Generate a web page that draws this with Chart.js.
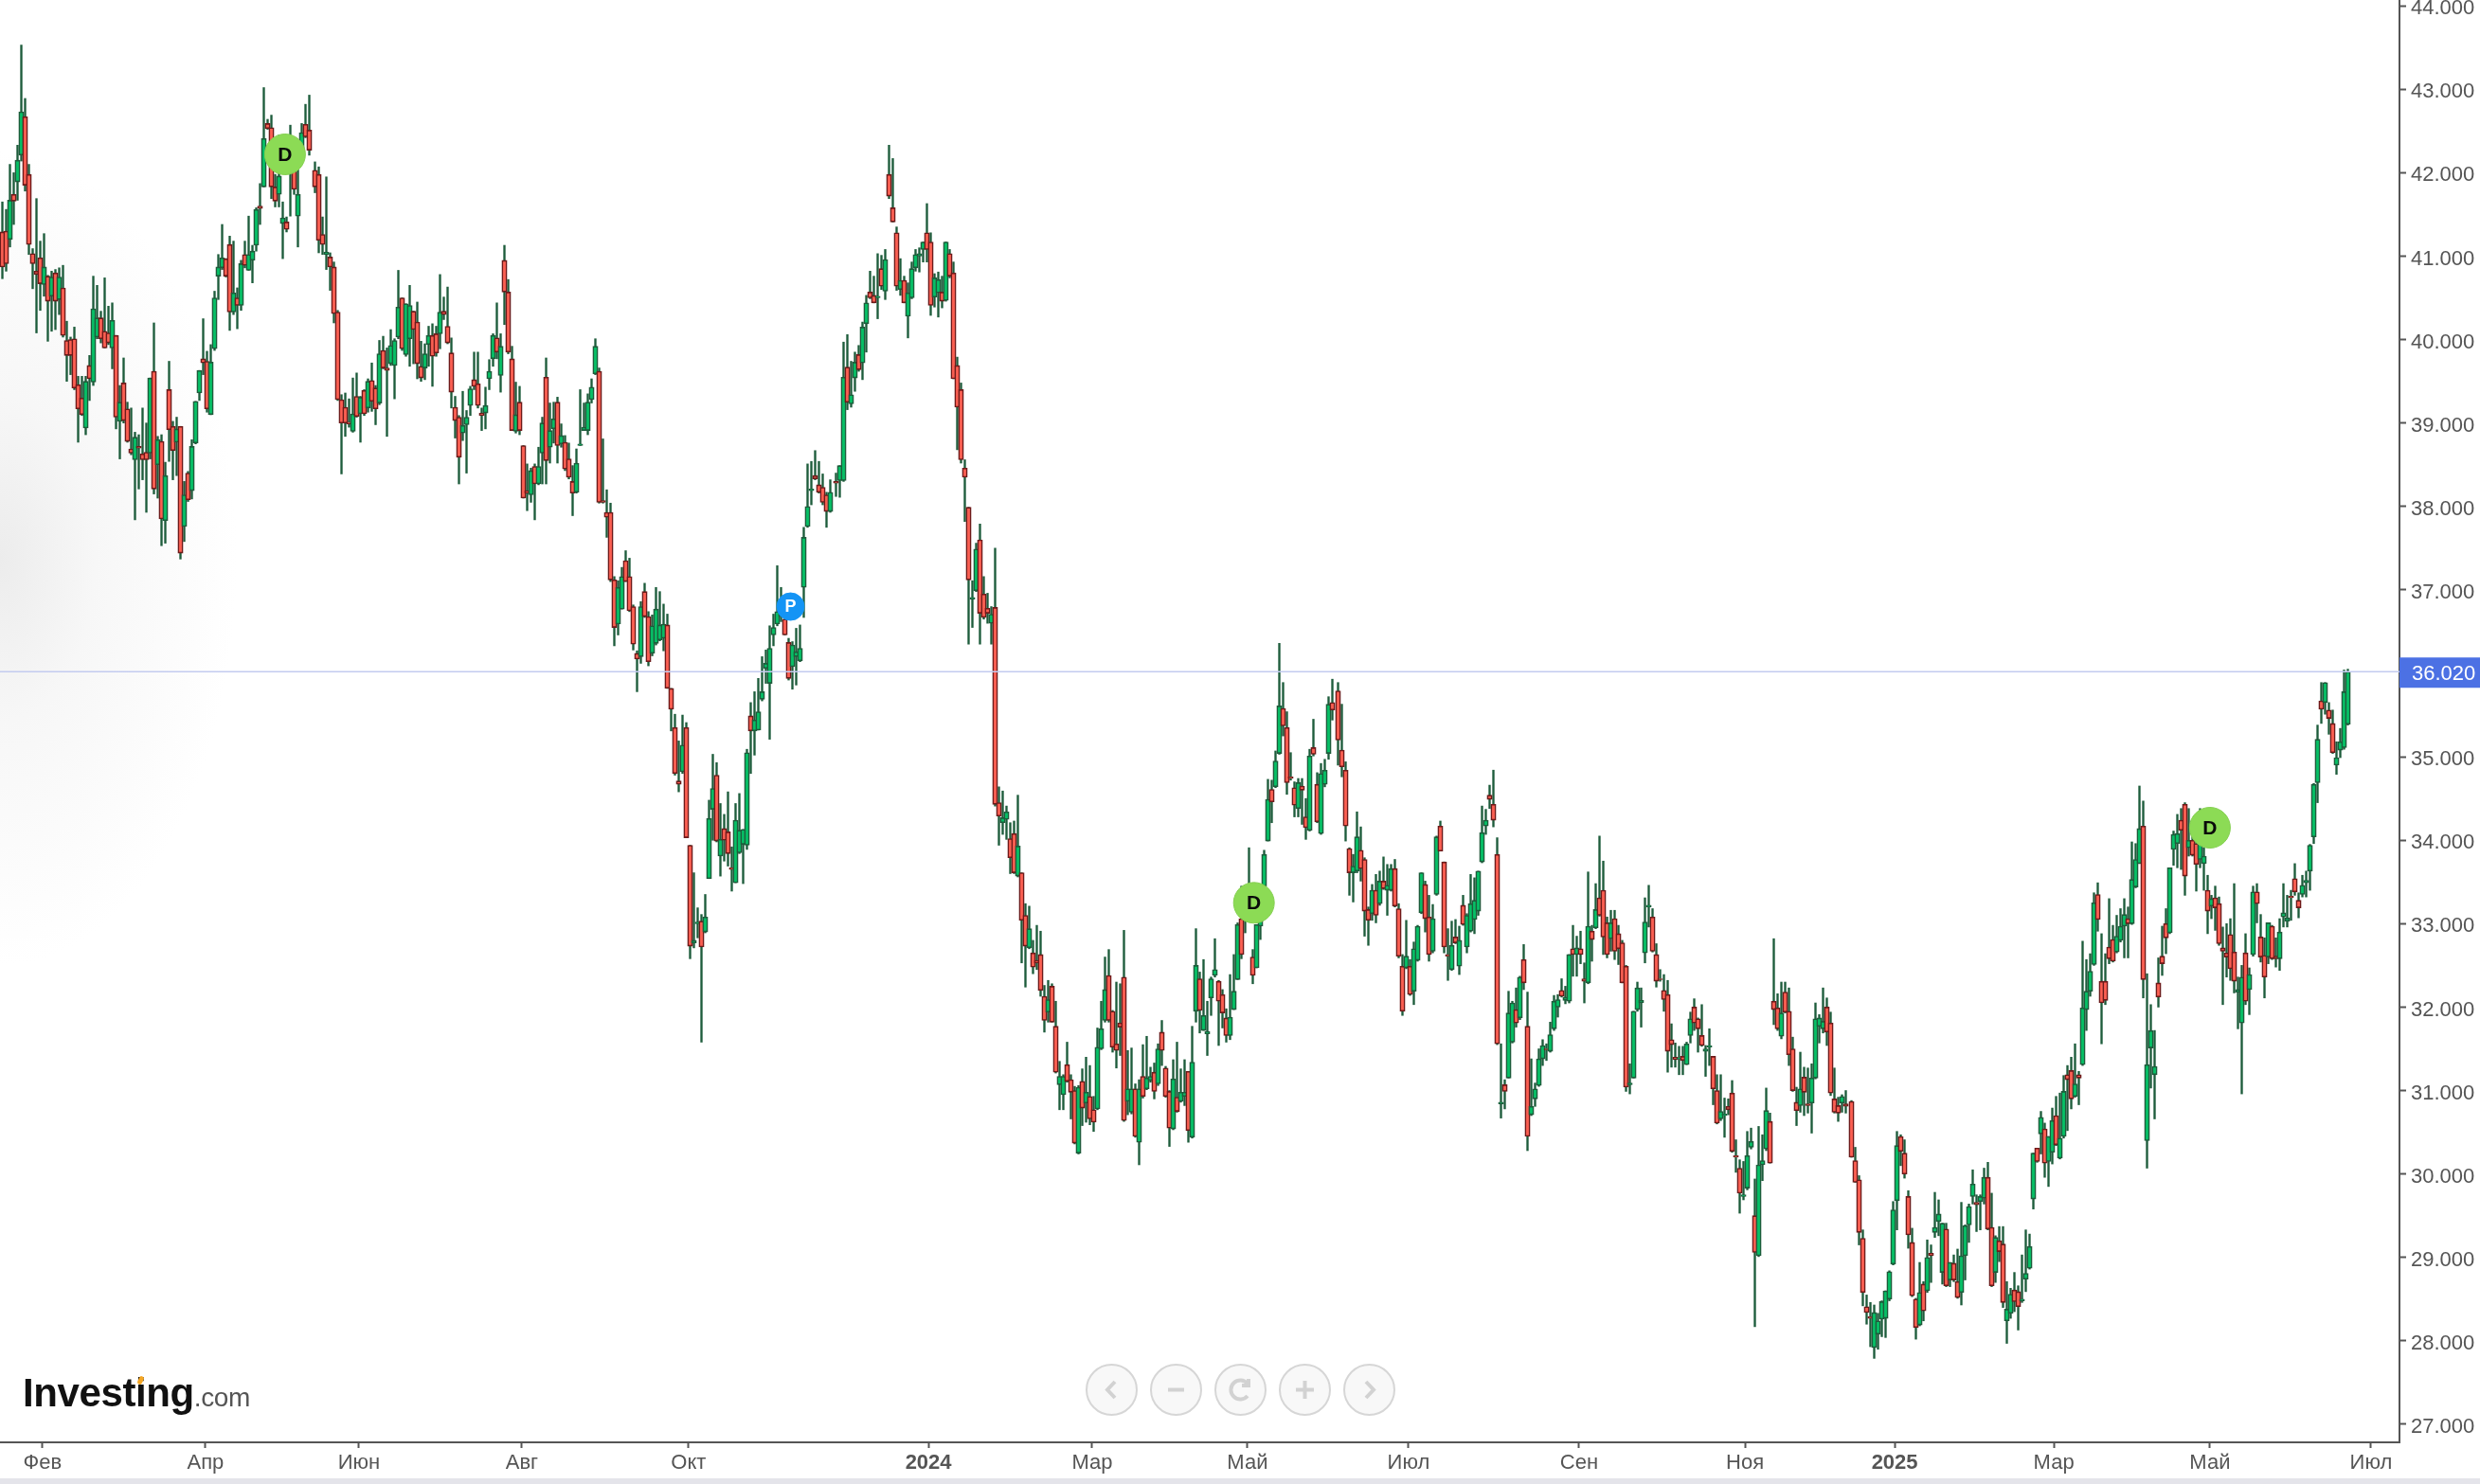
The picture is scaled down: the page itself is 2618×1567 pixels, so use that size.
<!DOCTYPE html>
<html lang="ru">
<head>
<meta charset="utf-8">
<title>Investing chart</title>
<script src="https://cdn.jsdelivr.net/npm/chart.js@4"></script>
<style>
html, body { margin: 0; width: 2618px; height: 1567px; overflow: hidden; background: #fff; font-family: "Liberation Sans", Arial, sans-serif; }
#wrap { position: relative; width: 2618px; height: 1561px; background: radial-gradient(ellipse 250px 430px at 0px 590px, #ececec 0%, #f7f7f7 40%, #fff 100%); }
#strip { position: absolute; left: 0; top: 1561px; width: 2618px; height: 6px; background: #e4e4ea; }
canvas { position: absolute; left: 0; top: 0; }
.logo { position: absolute; left: 24px; top: 1447px; font-size: 42px; line-height: 48px; font-weight: bold; color: #111; letter-spacing: -0.4px; white-space: nowrap; }
.logo span { font-size: 28px; font-weight: normal; color: #555; letter-spacing: -0.4px; }
.logo i { position: absolute; left: 122px; top: 6px; width: 5px; height: 9px; background: #f5a623; border-radius: 3px; transform: rotate(25deg); }
.btn { position: absolute; top: 1439.5px; width: 51px; height: 51px; border: 2px solid #d6d6d6; border-radius: 50%; background: #f8f8f8; }
.btn svg { position: absolute; left: 0; top: 0; width: 51px; height: 51px; fill: none; stroke: #d2d2d2; stroke-width: 4; }
</style>
</head>
<body>
<div id="wrap">
  <canvas id="chart" width="2618" height="1561"></canvas>
  <div class="logo">Investing<span>.com</span><i></i></div>
  <div class="btn" style="left:1146px"><svg viewBox="0 0 51 51"><path d="M29 17l-8 8.500 8 8.500"/></svg></div>
  <div class="btn" style="left:1214px"><svg viewBox="0 0 51 51"><path d="M17 25.500h17"/></svg></div>
  <div class="btn" style="left:1282px"><svg viewBox="0 0 51 51"><path d="M33 32a10 10 0 1 1 0-13M34 14v7h-7"/></svg></div>
  <div class="btn" style="left:1350px"><svg viewBox="0 0 51 51"><path d="M16 25.500h19M25.500 16v19"/></svg></div>
  <div class="btn" style="left:1418px"><svg viewBox="0 0 51 51"><path d="M22 17l8 8.500-8 8.500"/></svg></div>
</div>
<div id="strip"></div>
<script>
// Axis labels
const monthLabels = ['Фев','Апр','Июн','Авг','Окт','2024','Мар','Май','Июл','Сен','Ноя','2025','Мар','Май','Июл'];
const monthSlots = [10.6,53.6,94.1,137.1,181.1,244.4,287.6,328.6,371.1,416.1,459.9,499.4,541.4,582.6,625.1];
const priceTicks = [27,28,29,30,31,32,33,34,35,36,37,38,39,40,41,42,43,44];
const lastPrice = 36.02;

// Sessions after which the exchange was closed for a while
const sessionBreaks = [82,219,351,486];

// Event badges
const badgeLabels = ['D','P','D','D'];
const badgeSlots = [74.6,208,330.3,582.6];
const badgePrices = [42.22,36.8,33.25,34.15];

// Candles
const opens = [
41.29,41.30,41.20,41.74,41.89,42.21,42.67,41.98,41.03,40.82,
40.98,40.66,40.76,40.52,40.80,40.48,40.62,39.99,40.00,40.01,
39.46,39.30,38.94,39.69,39.49,40.03,40.26,40.10,40.08,39.90,
40.05,39.02,39.48,39.17,38.69,38.56,38.72,38.63,38.65,38.64,
39.62,38.50,38.78,37.83,39.40,38.96,38.77,38.96,37.76,38.40,
38.19,38.76,39.36,39.77,39.74,39.10,39.89,40.76,40.86,40.97,
41.14,40.33,40.50,40.41,41.02,40.83,40.95,41.13,41.60,41.83,
42.59,42.54,41.83,41.74,41.39,41.41,42.10,42.10,41.48,42.23,
42.58,42.51,42.03,41.98,41.26,41.02,40.99,40.87,40.33,39.28,
39.19,39.01,38.90,39.32,39.11,39.39,39.18,39.51,39.42,39.24,
39.87,39.66,39.71,39.69,40.03,40.50,39.82,40.01,40.34,40.21,
39.68,39.66,39.94,40.05,40.07,40.07,40.34,40.16,39.84,39.19,
39.07,38.88,38.98,39.21,39.52,39.47,39.12,39.12,39.53,39.77,
40.02,39.57,40.95,40.57,39.77,38.90,39.25,38.73,38.19,38.14,
38.48,38.27,38.64,39.55,38.71,38.93,39.25,38.75,38.77,38.57,
38.30,38.17,38.73,38.91,38.91,39.28,39.59,39.62,38.07,37.93,
37.93,37.12,36.59,36.77,37.35,37.16,36.80,36.24,36.20,36.98,
36.68,36.24,36.36,36.40,36.42,36.58,35.82,35.35,34.71,34.82,
35.35,33.94,32.77,33.00,33.03,32.90,33.54,34.37,34.78,33.81,
34.14,34.10,33.67,33.49,33.85,33.95,33.94,35.49,35.31,35.32,
35.69,36.06,35.88,36.46,36.59,36.68,36.65,36.37,36.08,36.20,
36.15,37.03,37.76,38.19,38.37,38.26,38.23,38.14,37.94,38.30,
38.31,38.31,39.67,39.23,39.54,39.82,39.72,40.19,40.57,40.53,
40.50,40.85,40.58,41.98,41.58,41.28,40.60,40.71,40.28,40.50,
40.86,41.00,41.08,41.28,41.17,40.51,40.56,40.57,40.47,41.03,
40.80,39.69,39.40,38.46,37.99,36.89,36.99,37.60,36.95,36.78,
36.60,36.79,34.45,34.21,34.25,34.02,34.08,33.57,33.61,33.10,
32.71,32.65,32.56,32.63,32.13,31.94,32.25,31.77,31.07,30.95,
31.31,31.13,31.00,30.25,31.11,30.85,30.93,30.77,30.78,31.50,
31.84,32.38,31.95,31.56,31.81,32.36,30.87,30.74,31.02,30.38,
31.17,31.02,31.12,31.22,31.08,31.70,31.27,30.99,30.54,30.92,
30.87,30.93,31.23,30.44,31.95,32.34,31.72,31.68,32.11,32.38,
32.31,32.15,31.87,31.66,31.97,32.33,33.06,33.10,33.22,32.60,
32.47,32.97,33.45,33.99,34.61,34.64,35.04,35.58,35.35,34.76,
34.63,34.38,34.65,34.28,34.12,35.11,34.67,34.08,34.67,35.04,
35.65,35.79,35.08,34.84,33.90,33.61,33.63,33.88,33.77,33.17,
33.12,33.40,33.24,33.51,33.40,33.40,33.66,33.18,32.49,32.47,
32.49,32.19,32.56,33.13,33.47,33.08,32.67,33.35,34.17,33.74,
32.63,32.45,32.84,32.49,33.22,32.72,32.91,33.05,33.15,33.74,
34.17,34.54,34.43,33.83,30.84,31.07,31.15,31.58,31.97,31.87,
32.57,31.77,30.71,30.90,31.06,31.38,31.50,31.47,31.74,32.00,
32.20,32.08,32.07,32.70,32.63,32.70,32.34,32.29,32.91,32.95,
33.31,33.40,33.01,32.82,33.06,32.88,32.77,32.49,31.07,31.15,
31.97,32.05,32.65,33.20,33.08,32.63,32.34,32.20,32.15,31.61,
31.40,31.38,31.41,31.31,31.66,32.00,31.86,31.66,31.47,31.52,
31.41,31.00,30.66,30.70,30.81,30.97,30.22,30.07,29.73,29.83,
30.32,29.50,29.02,30.11,30.30,30.63,32.07,31.99,31.65,32.18,
31.95,31.50,30.86,30.82,31.16,30.84,30.85,31.15,31.77,31.74,
32.00,31.81,30.90,30.82,30.85,30.84,30.87,30.16,29.93,29.23,
28.41,28.29,27.92,28.08,28.26,28.27,28.50,28.92,29.68,30.45,
30.25,29.73,29.18,28.50,28.19,28.68,28.60,29.05,29.30,29.43,
28.82,29.34,28.73,28.93,28.71,28.58,29.02,29.39,29.73,29.66,
29.67,29.71,29.96,29.36,28.82,29.20,29.16,28.24,28.33,28.61,
28.59,28.48,28.74,28.87,29.70,30.31,30.48,30.54,30.15,30.26,
30.70,30.19,30.45,31.19,31.24,30.93,31.19,31.31,31.97,32.19,
32.51,33.35,32.31,32.31,32.72,32.81,32.66,32.80,32.97,33.06,
33.00,33.44,33.72,34.17,30.40,31.51,31.19,32.29,32.61,33.00,
32.89,33.89,33.96,34.24,34.43,33.91,34.00,33.96,33.77,33.72,
33.40,33.21,33.31,33.24,32.71,32.65,32.87,32.66,32.18,31.81,
32.65,32.21,32.63,33.38,32.84,32.62,32.60,32.97,32.61,32.58,
33.08,33.03,33.33,33.54,33.28,33.35,33.49,33.63,34.04,34.69,
35.67,35.65,35.56,35.40,34.90,35.08,35.11,35.39];
const highs = [
41.65,41.56,42.10,42.00,42.33,43.53,42.89,42.10,41.09,41.69,
41.18,41.27,40.77,40.82,40.84,40.86,40.89,40.22,40.03,40.15,
39.56,39.56,39.56,39.81,40.76,40.65,40.34,40.74,40.40,40.44,
40.05,39.45,39.78,39.25,39.18,38.89,38.86,39.18,39.00,39.54,
40.20,38.84,38.86,38.53,39.74,39.02,39.07,38.96,38.30,38.42,
38.80,39.26,39.63,40.25,39.86,39.94,40.58,41.02,41.38,40.97,
41.24,41.18,40.62,40.95,41.18,41.48,41.13,41.58,41.87,43.02,
42.64,42.69,41.98,42.45,41.65,41.47,42.57,42.36,42.30,42.59,
42.82,42.93,42.13,42.07,41.47,41.95,41.04,40.93,40.35,39.34,
39.36,39.29,39.54,39.60,39.32,39.40,39.53,39.72,39.45,39.99,
40.04,39.90,40.12,40.01,40.83,40.50,40.43,40.65,40.34,40.45,
39.98,39.95,40.16,40.19,40.16,40.78,40.51,40.63,40.02,39.32,
39.09,39.38,39.15,39.44,39.85,39.85,39.18,39.43,39.76,40.07,
40.44,40.07,41.13,40.72,39.92,39.49,39.44,38.73,38.51,38.46,
38.51,38.71,39.07,39.78,39.24,39.25,39.31,38.99,38.85,38.76,
38.49,38.69,39.40,39.24,39.35,39.53,40.01,39.66,38.81,38.20,
38.04,37.16,37.11,37.27,37.47,37.38,36.82,36.27,36.86,37.08,
36.74,36.70,37.03,36.98,36.83,36.71,35.82,35.51,35.19,35.50,
35.41,33.94,33.61,33.19,33.11,33.35,34.48,35.03,34.93,34.44,
34.31,34.58,33.92,34.44,34.56,34.13,35.09,35.65,35.78,35.94,
36.20,36.28,36.57,36.71,37.29,37.03,36.74,36.42,36.38,36.54,
36.58,37.75,38.51,38.54,38.67,38.54,38.39,38.17,38.32,38.40,
38.49,39.97,40.06,39.74,39.85,39.93,40.21,40.53,40.82,40.76,
41.03,41.01,41.08,42.33,42.17,41.35,40.97,40.76,40.68,40.93,
41.08,41.10,41.17,41.63,41.28,40.79,40.81,40.76,41.17,41.08,
40.93,39.79,39.48,38.56,37.99,37.11,37.56,37.79,37.16,36.96,
36.80,37.50,34.64,34.59,34.41,34.21,34.23,34.54,33.61,33.24,
33.21,32.80,32.98,32.91,32.26,32.32,32.28,32.07,31.35,31.19,
31.58,31.19,31.05,31.06,31.26,31.40,31.30,30.93,31.75,32.07,
32.60,32.69,31.96,32.30,32.28,32.92,31.48,31.51,31.08,31.13,
31.55,31.65,31.28,31.33,31.56,31.84,31.29,31.00,31.37,31.58,
31.26,31.37,31.23,31.77,32.94,32.42,32.57,32.07,32.36,32.82,
32.32,32.21,31.98,32.39,32.63,33.01,33.45,33.45,33.91,32.69,
32.99,33.45,33.88,34.73,34.72,35.07,36.36,35.89,35.54,35.05,
34.70,34.74,34.74,34.50,35.09,35.45,34.81,34.92,34.97,35.72,
35.93,35.89,35.63,34.94,33.91,33.83,34.34,34.16,33.79,33.20,
33.47,33.59,33.63,33.80,33.71,33.71,33.77,33.24,32.63,33.04,
32.57,32.78,32.98,33.61,33.51,33.34,33.23,34.05,34.23,33.74,
32.94,33.03,33.05,32.97,33.34,33.12,33.59,33.55,33.63,34.41,
34.37,34.66,34.84,34.03,31.56,31.13,32.19,32.07,32.23,32.37,
32.75,32.18,31.38,31.09,31.50,31.61,31.56,31.82,32.14,32.15,
32.34,32.25,32.63,32.98,32.85,32.91,32.53,33.62,32.98,33.48,
34.05,33.75,33.08,33.16,33.16,32.98,32.80,32.50,31.32,31.95,
32.30,32.23,33.31,33.46,33.18,32.76,32.45,32.39,32.32,31.80,
31.57,31.53,31.53,31.58,31.94,32.10,31.87,32.03,31.54,31.74,
31.41,31.19,31.19,30.91,30.90,31.12,30.41,30.17,30.15,30.51,
30.55,29.94,30.57,30.47,31.03,30.73,32.82,32.16,32.30,32.30,
32.23,31.64,31.04,31.46,31.28,31.27,31.32,32.05,31.91,32.23,
32.11,31.94,31.27,30.92,30.95,31.00,30.88,30.32,29.98,29.33,
28.55,28.46,28.43,28.33,28.48,28.60,28.84,29.67,30.51,30.47,
30.41,29.80,29.35,28.51,28.94,28.71,29.21,29.15,29.78,29.69,
29.41,29.41,28.94,29.03,29.10,29.66,29.39,29.64,30.05,29.75,
29.75,30.07,30.14,29.77,29.26,29.37,29.37,28.71,28.63,28.82,
28.66,29.03,29.33,29.28,30.25,30.31,30.75,30.61,30.45,30.79,
30.93,30.97,31.18,31.30,31.40,31.56,31.23,32.79,32.57,32.64,
33.37,33.49,32.88,32.64,33.30,32.98,33.10,33.18,33.30,33.20,
33.98,33.96,34.65,34.47,32.40,32.03,31.72,32.59,32.97,33.18,
33.67,34.11,34.31,34.38,34.45,34.38,34.14,34.14,34.38,33.91,
33.58,33.34,33.45,33.32,32.96,33.00,33.06,33.48,32.36,32.50,
32.88,32.47,33.45,33.48,33.11,32.83,33.01,32.98,32.83,33.06,
33.48,33.34,33.40,33.72,33.37,33.58,33.63,33.95,34.68,35.38,
35.89,35.89,35.65,35.56,35.18,35.34,36.04,36.05];
const lows = [
40.73,40.82,41.11,41.38,41.67,42.14,41.78,41.02,40.61,40.08,
40.35,40.52,39.98,40.10,40.12,40.30,40.03,39.50,39.58,39.40,
38.77,39.09,38.86,39.27,39.45,40.01,39.96,39.90,39.94,39.65,
38.93,38.57,39.00,38.77,38.62,37.84,38.21,38.32,37.93,38.57,
38.15,38.10,37.53,37.56,38.54,38.32,38.37,37.37,37.58,38.06,
38.09,38.75,39.27,39.58,39.13,39.10,39.87,40.48,40.84,40.75,
40.11,40.30,40.13,40.35,40.86,40.83,40.68,41.06,41.38,41.83,
42.52,41.69,41.59,41.59,40.97,41.29,41.48,41.74,41.11,42.18,
42.42,42.21,41.76,41.04,41.02,40.84,40.59,40.20,39.27,38.39,
38.84,38.95,38.89,39.07,38.77,39.09,39.13,39.14,38.98,39.22,
39.65,38.84,39.69,39.29,40.01,39.87,39.80,39.68,39.71,39.53,
39.50,39.52,39.68,39.44,39.80,39.89,40.24,39.95,39.18,38.82,
38.27,38.79,38.40,39.09,39.40,39.18,38.91,38.93,39.40,39.68,
39.77,39.37,40.18,39.83,38.91,38.88,38.86,38.10,37.95,38.05,
37.84,38.26,38.27,38.27,38.52,38.76,38.52,38.71,38.43,38.33,
37.89,38.16,38.73,38.91,38.86,39.24,39.58,38.04,38.04,37.63,
37.10,36.33,36.46,36.77,37.10,36.74,36.28,35.78,36.12,36.67,
36.09,36.21,36.34,36.39,36.27,35.82,35.31,34.78,34.58,34.80,
34.03,32.58,32.71,32.83,31.58,32.89,33.54,34.00,33.98,33.57,
33.75,33.69,33.39,33.49,33.84,33.48,33.89,34.80,35.02,35.32,
35.67,35.88,35.21,36.33,36.57,36.62,36.46,35.92,35.81,35.86,
36.14,36.67,37.75,38.02,38.32,38.16,38.02,37.75,37.93,38.12,
38.11,38.30,39.16,39.19,39.38,39.62,39.52,39.85,40.49,40.44,
40.25,40.60,40.48,41.69,41.41,40.59,40.53,40.44,40.02,40.49,
40.82,40.81,40.93,40.93,40.29,40.39,40.27,40.38,40.46,40.74,
39.53,38.68,38.52,37.82,36.35,36.55,36.98,36.35,36.65,36.60,
36.35,34.41,33.94,34.07,34.01,33.60,33.60,33.56,32.53,32.24,
32.70,32.40,32.45,32.13,31.70,31.82,31.82,31.21,30.77,30.77,
31.10,30.66,30.36,30.24,30.58,30.62,30.59,30.51,30.77,31.49,
31.82,31.82,31.46,31.27,31.42,30.63,30.71,30.72,30.44,30.11,
30.91,31.01,31.10,30.90,31.06,31.30,30.92,30.33,30.53,30.74,
30.86,30.82,30.38,30.43,31.82,31.69,31.72,31.42,31.90,32.36,
31.54,31.75,31.58,31.61,31.97,32.33,32.58,32.89,33.22,32.28,
32.47,32.81,33.31,33.99,34.21,34.63,35.03,35.25,34.55,34.72,
34.28,34.28,34.19,34.01,34.11,35.01,34.21,34.07,34.64,34.97,
35.44,34.90,34.76,33.99,33.34,33.26,33.61,33.51,32.85,32.74,
33.04,33.01,33.22,33.41,33.10,33.39,33.20,32.59,31.90,32.46,
32.14,32.03,32.55,33.12,32.90,32.55,32.65,33.34,33.87,32.65,
32.32,32.44,32.76,32.39,32.98,32.65,32.90,32.88,33.10,33.73,
34.07,34.38,34.16,31.55,30.67,30.78,31.15,31.57,31.76,31.85,
32.21,30.28,30.70,30.81,31.05,31.30,31.36,31.46,31.72,31.88,
32.12,32.04,32.05,32.37,32.37,32.52,32.05,32.28,32.55,32.94,
33.09,32.63,32.59,32.67,32.57,32.51,32.29,30.99,30.96,31.15,
31.95,31.76,32.53,32.96,32.66,32.24,32.31,31.95,31.22,31.28,
31.28,31.19,31.19,31.31,31.57,31.72,31.46,31.53,31.17,31.30,
30.83,30.60,30.64,30.44,30.71,30.26,30.02,29.53,29.69,29.81,
30.30,28.17,29.01,29.92,30.28,30.13,31.79,31.72,31.62,31.93,
31.30,30.99,30.58,30.74,30.70,30.73,30.49,31.14,31.57,31.69,
31.54,30.94,30.73,30.63,30.74,30.73,30.20,29.90,29.15,28.42,
28.20,27.93,27.79,27.90,28.05,28.04,28.48,28.91,29.33,30.10,
29.95,29.11,28.53,28.02,28.18,28.24,28.58,28.70,29.24,29.26,
28.68,28.65,28.65,28.71,28.51,28.43,28.73,29.18,29.64,29.31,
29.33,29.64,29.33,28.65,28.70,28.95,28.40,27.97,28.27,28.35,
28.13,28.46,28.59,28.86,29.58,30.14,30.24,29.96,29.85,30.12,
30.34,30.18,30.43,30.52,30.78,30.92,30.83,31.30,31.72,32.13,
32.50,32.91,31.56,32.03,32.52,32.54,32.65,32.78,32.59,32.59,
32.99,33.43,33.72,32.11,30.07,31.03,30.66,32.00,32.38,32.64,
32.88,33.70,33.67,33.65,33.34,33.81,33.81,33.39,33.67,33.40,
32.88,33.06,32.92,32.74,32.03,32.36,32.32,32.17,31.74,30.96,
32.03,31.91,32.61,33.01,32.54,32.11,32.52,32.57,32.48,32.44,
32.96,32.96,33.04,33.34,33.07,33.32,33.32,33.40,33.96,34.45,
35.40,35.51,35.27,35.04,34.79,34.99,35.09,35.38];
const closes = [
40.87,40.91,41.67,41.66,42.15,42.73,41.85,41.14,40.91,40.78,
40.67,40.87,40.46,40.75,40.46,40.75,40.05,39.81,39.81,39.42,
39.17,39.10,39.50,39.53,40.37,40.26,40.01,39.90,39.96,40.23,
39.07,39.25,39.03,38.78,38.64,38.83,38.70,38.56,38.56,39.54,
38.21,38.80,37.85,38.37,38.92,38.67,38.93,37.44,38.14,38.08,
38.72,39.26,39.63,39.72,39.17,39.73,40.50,40.87,40.98,40.76,
40.33,40.56,40.41,40.91,40.89,41.02,41.06,41.56,41.57,42.41,
42.53,41.83,41.66,41.96,41.46,41.32,42.27,41.80,41.74,42.48,
42.43,42.27,41.83,41.19,41.14,41.05,40.87,40.31,39.28,39.00,
39.00,38.99,39.11,39.08,39.31,39.11,39.50,39.26,39.17,39.83,
39.66,39.63,39.93,39.99,40.39,39.89,40.43,40.41,40.12,39.71,
39.54,39.83,40.05,39.80,39.84,40.33,40.30,39.96,39.37,39.03,
38.59,38.97,39.07,39.41,39.44,39.21,39.09,39.21,39.62,40.05,
39.85,39.92,40.57,39.85,38.91,39.10,38.91,38.10,38.16,38.43,
38.27,38.48,39.00,38.55,38.91,39.05,38.73,38.85,38.45,38.35,
38.16,38.52,38.75,38.95,39.25,39.43,39.92,38.05,38.05,37.87,
37.12,36.55,37.03,37.16,37.10,36.75,36.35,36.17,36.80,36.68,
36.14,36.57,36.77,36.58,36.59,35.82,35.57,34.80,34.67,35.14,
34.03,32.73,32.80,33.02,32.72,33.08,34.26,34.62,33.99,34.01,
34.00,33.84,33.65,34.24,34.12,34.13,35.05,35.31,35.44,35.54,
35.78,36.12,36.30,36.55,36.74,36.80,36.46,35.94,36.34,36.26,
36.30,37.63,38.00,38.21,38.33,38.17,38.05,37.94,38.17,38.28,
38.49,39.55,39.25,39.34,39.73,39.64,40.15,40.44,40.50,40.44,
40.52,40.64,40.96,41.72,41.41,40.64,40.71,40.44,40.56,40.85,
41.02,41.03,41.17,41.08,40.41,40.74,40.72,40.46,41.17,40.76,
39.53,39.19,38.56,38.35,37.12,36.91,37.49,36.72,36.67,36.72,
36.71,34.43,34.29,34.27,34.34,33.79,33.61,33.93,33.04,32.73,
32.94,32.48,32.53,32.20,31.84,32.09,31.82,31.22,31.17,31.17,
31.11,30.98,30.37,31.04,30.79,30.98,30.66,30.62,31.52,31.74,
32.21,31.84,31.52,31.48,31.76,30.64,31.02,31.02,30.45,31.02,
30.93,31.15,31.17,30.99,31.50,31.48,30.93,30.55,31.14,30.75,
30.98,30.98,30.52,31.34,32.50,31.96,31.90,31.71,32.34,32.45,
32.07,31.93,31.66,31.88,32.19,32.99,32.63,33.22,33.39,32.38,
32.99,33.07,33.83,34.49,34.46,34.95,35.61,35.37,34.69,34.74,
34.42,34.69,34.60,34.15,35.01,35.03,34.22,34.80,34.84,35.63,
35.56,35.20,34.88,34.17,33.61,33.69,34.04,33.66,33.15,33.04,
33.40,33.10,33.51,33.42,33.46,33.66,33.21,32.61,31.95,32.61,
32.15,32.70,32.97,33.61,33.06,32.63,33.06,34.04,33.87,32.72,
32.61,32.74,32.77,32.80,32.99,33.10,33.24,33.28,33.63,34.09,
34.24,34.49,34.24,31.56,30.86,30.99,31.93,32.05,31.81,32.36,
32.29,30.45,30.81,31.02,31.38,31.54,31.49,31.67,32.07,32.09,
32.13,32.12,32.63,32.63,32.71,32.63,32.31,32.97,32.81,33.17,
33.10,32.84,32.63,33.01,32.67,32.70,32.29,31.04,31.09,31.95,
32.23,32.08,33.02,33.22,32.67,32.31,32.33,32.09,31.47,31.55,
31.37,31.39,31.36,31.56,31.86,31.81,31.74,31.54,31.50,31.54,
31.02,30.61,30.75,30.72,30.77,30.27,30.20,29.77,29.75,30.22,
30.39,29.06,30.11,30.16,30.76,30.13,31.97,31.74,31.93,31.94,
31.43,31.00,30.76,31.02,30.98,30.82,31.15,31.86,31.87,31.83,
31.70,30.97,30.74,30.73,30.93,30.81,30.20,29.90,29.30,28.58,
28.34,28.27,28.34,28.24,28.47,28.60,28.83,29.57,30.34,30.27,
30.00,29.27,28.54,28.16,28.58,28.36,29.00,29.02,29.36,29.52,
29.41,28.66,28.94,28.73,28.52,29.02,29.38,29.61,29.88,29.63,
29.73,29.96,29.34,28.66,29.24,29.07,28.46,28.38,28.56,28.47,
28.41,28.50,28.81,29.13,30.25,30.15,30.68,30.13,30.45,30.64,
30.35,30.43,30.99,31.13,30.90,31.08,31.15,31.99,32.19,32.43,
33.25,33.05,32.05,32.08,32.58,32.55,32.85,32.97,33.11,33.00,
33.53,33.77,34.14,32.33,31.31,31.72,31.29,32.12,32.52,32.83,
33.67,34.07,34.08,34.12,33.57,34.00,33.82,33.71,33.96,33.81,
33.15,33.30,33.19,32.76,32.67,32.60,32.46,32.31,32.21,32.36,
32.07,32.39,33.38,33.24,32.60,32.36,33.01,32.58,32.58,32.90,
33.13,33.07,33.31,33.38,33.19,33.46,33.52,33.94,34.67,35.21,
35.57,35.89,35.46,35.05,34.99,35.18,35.78,36.02];

// Slot of every session on the x axis, closures add half a slot
let closedSlots = 0;
const slots = opens.map((o, i) => {
    if (sessionBreaks.includes(i)) closedSlots += 0.5;
    return i + closedSlots;
});

const isUp = i => closes[i] >= opens[i];

const lastPricePlugin = {
    id: 'lastPrice',
    afterDraw(chart) {
        const ctx = chart.ctx, y = chart.scales.y.getPixelForValue(lastPrice), a = chart.chartArea;
        ctx.save();
        ctx.fillStyle = '#4c71e4';
        ctx.fillRect(a.right, y - 15, 85, 32);
        ctx.fillStyle = '#fff';
        ctx.font = '22px "Liberation Sans"';
        ctx.textBaseline = 'middle';
        ctx.fillText(lastPrice.toFixed(3), a.right + 13, y + 3);
        // badge letters
        const badges = chart.getDatasetMeta(3).data;
        ctx.textAlign = 'center';
        badges.forEach((pt, i) => {
            ctx.fillStyle = badgeLabels[i] === 'P' ? '#fff' : '#0a0a0a';
            ctx.font = 'bold ' + (badgeLabels[i] === 'P' ? 18 : 21) + 'px "Liberation Sans"';
            ctx.fillText(badgeLabels[i], pt.x, pt.y + 1);
        });
        ctx.restore();
    }
};

const ctx = document.getElementById('chart').getContext('2d');
new Chart(ctx, {
    type: 'bar',
    plugins: [lastPricePlugin],
    data: {
        datasets: [
            {
                label: 'Wicks',
                order: 4,
                data: slots.map((x, i) => ({ x: x, y: [lows[i], highs[i]] })),
                backgroundColor: '#1d5c3b',
                barThickness: 1.7,
                grouped: false
            },
            {
                label: 'Bodies',
                order: 3,
                data: slots.map((x, i) => ({ x: x, y: [opens[i], closes[i]] })),
                backgroundColor: slots.map((x, i) => isUp(i) ? '#07bf66' : '#fb5f52'),
                borderColor: slots.map((x, i) => isUp(i) ? '#1d5c3b' : '#6d1a1a'),
                borderWidth: 1.6,
                borderSkipped: false,
                barThickness: 5.4,
                grouped: false
            },
            {
                label: 'Last price',
                type: 'line',
                order: 2,
                data: [{ x: -0.625, y: lastPrice }, { x: 632.625, y: lastPrice }],
                borderColor: '#c3cbef',
                borderWidth: 1.5,
                pointRadius: 0
            },
            {
                label: 'Events',
                type: 'line',
                order: 1,
                showLine: false,
                data: badgeSlots.map((x, i) => ({ x: x, y: badgePrices[i] })),
                pointRadius: badgeLabels.map(l => l === 'P' ? 14.5 : 21.5),
                pointBackgroundColor: badgeLabels.map(l => l === 'P' ? '#1494f5' : '#8cdb55'),
                pointBorderColor: badgeLabels.map(l => l === 'P' ? '#1494f5' : '#84cf50'),
                pointBorderWidth: 1
            }
        ]
    },
    options: {
        responsive: false,
        animation: false,
        events: [],
        layout: { autoPadding: false, padding: 0 },
        plugins: {
            legend: { display: false },
            tooltip: { enabled: false }
        },
        scales: {
            x: {
                type: 'linear',
                offset: false,
                min: -0.625,
                max: 632.625,
                afterBuildTicks: s => { s.ticks = monthSlots.map(v => ({ value: v })); },
                afterFit: s => { s.height = 38; s.paddingLeft = 0; s.paddingRight = 0; },
                border: { color: '#555', width: 2 },
                grid: { offset: false, drawOnChartArea: false, tickLength: 6, tickColor: '#555', tickWidth: 2 },
                ticks: {
                    autoSkip: false,
                    maxRotation: 0,
                    padding: 3,
                    color: '#555',
                    font: c => ({ family: '"Liberation Sans"', size: 22, weight: /^\d/.test(monthLabels[c.index]) ? 'bold' : 'normal' }),
                    callback: (v, i) => monthLabels[i]
                }
            },
            y: {
                position: 'right',
                min: 26.784,
                max: 44.07,
                afterBuildTicks: s => { s.ticks = priceTicks.map(v => ({ value: v })); },
                afterFit: s => { s.width = 85; s.paddingTop = 0; s.paddingBottom = 0; },
                border: { color: '#555', width: 2 },
                grid: { drawOnChartArea: false, tickLength: 7, tickColor: '#555', tickWidth: 2 },
                ticks: {
                    padding: 5,
                    labelOffset: 3,
                    color: '#555',
                    font: { family: '"Liberation Sans"', size: 22 },
                    callback: v => v.toFixed(3)
                }
            }
        }
    }
});
</script>
</body>
</html>
